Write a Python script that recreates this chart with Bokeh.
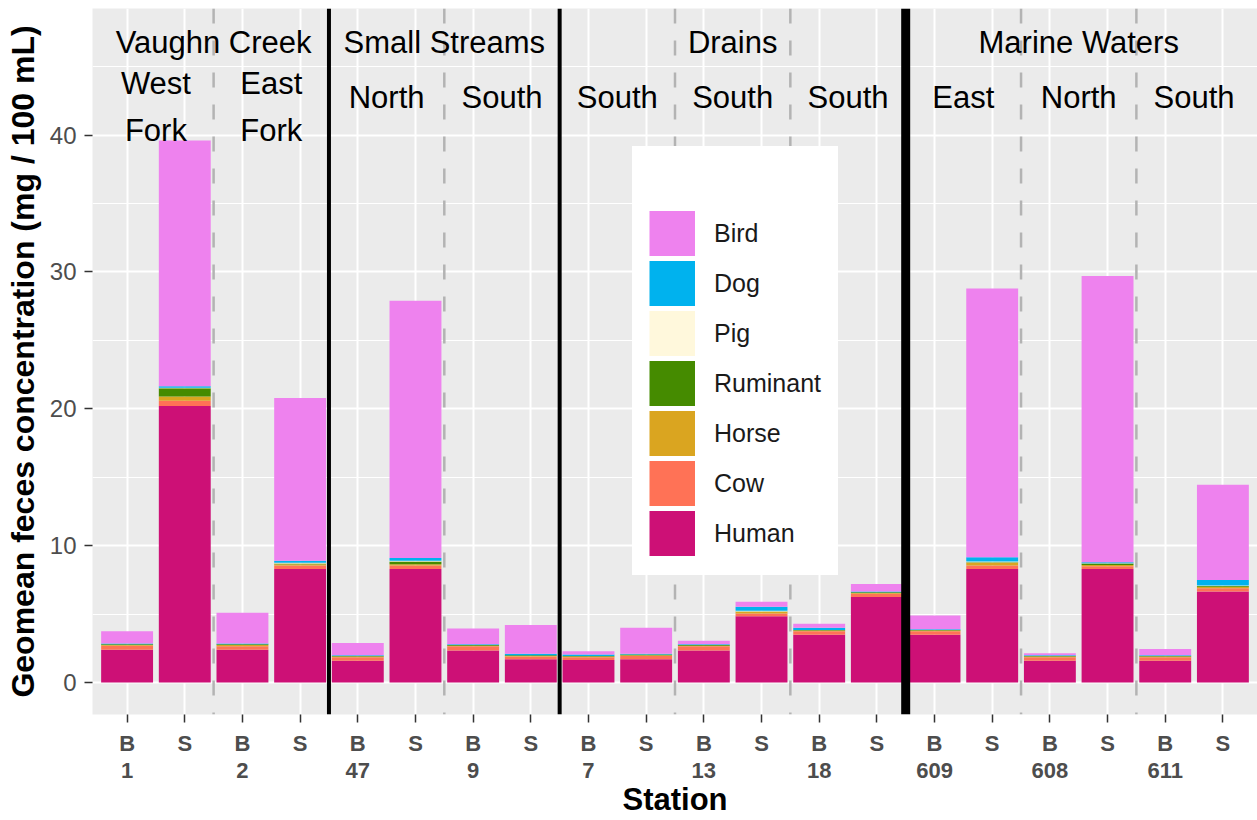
from bokeh.plotting import figure
from bokeh.models import Range1d, FixedTicker, Span, Legend, LegendItem, ColumnDataSource
from bokeh.core.properties import value
from bokeh.embed import file_html
from bokeh.resources import INLINE

# ---------------- data ----------------
stations = ["1", "1", "2", "2", "47", "47", "9", "9", "7", "7",
            "13", "13", "18", "18", "609", "609", "608", "608", "611", "611"]
sample_types = ["B", "S"] * 10
groups = (["Vaughn Creek"] * 4 + ["Small Streams"] * 4 +
          ["Drains"] * 6 + ["Marine Waters"] * 6)
sites = (["West\nFork"] * 2 + ["East\nFork"] * 2 + ["North"] * 2 + ["South"] * 2 +
         ["South"] * 6 + ["East"] * 2 + ["North"] * 2 + ["South"] * 2)

sources_order = ["Human", "Cow", "Horse", "Ruminant", "Pig", "Dog", "Bird"]
human    = [2.4, 20.2, 2.4, 8.3, 1.6, 8.3, 2.35, 1.7, 1.65, 1.7, 2.35, 4.85, 3.5, 6.25, 3.5, 8.3, 1.6, 8.3, 1.6, 6.65]
cow      = [0.3, 0.4, 0.25, 0.25, 0.25, 0.25, 0.3, 0.2, 0.2, 0.25, 0.3, 0.2, 0.25, 0.25, 0.25, 0.25, 0.25, 0.2, 0.25, 0.25]
horse    = [0.05, 0.3, 0.1, 0.1, 0.05, 0.1, 0.05, 0.05, 0.05, 0.05, 0.05, 0.1, 0.05, 0.05, 0.05, 0.2, 0.05, 0.1, 0.05, 0.1]
ruminant = [0.05, 0.6, 0.05, 0.05, 0.05, 0.2, 0.05, 0.05, 0.05, 0.05, 0.05, 0.05, 0.05, 0.05, 0.05, 0.05, 0.05, 0.1, 0.05, 0.05]
pig      = [0, 0.05, 0, 0.05, 0, 0.05, 0, 0, 0, 0, 0, 0.05, 0, 0, 0, 0.05, 0, 0.02, 0, 0.05]
dog      = [0.05, 0.1, 0.05, 0.15, 0.05, 0.2, 0.05, 0.1, 0.1, 0.05, 0.05, 0.3, 0.15, 0.05, 0.05, 0.3, 0.05, 0.08, 0.05, 0.4]
bird     = [0.9, 17.95, 2.25, 11.9, 0.9, 18.8, 1.15, 2.1, 0.25, 1.9, 0.25, 0.35, 0.3, 0.55, 1.0, 19.65, 0.15, 20.9, 0.45, 6.95]

y_ticks = [0, 10, 20, 30, 40]
y_minor = [5, 15, 25, 35, 45]

colors = {"Human": "#CD1076", "Cow": "#FF7256", "Horse": "#DAA520",
          "Ruminant": "#458B00", "Pig": "#FFF8DC", "Dog": "#00B2EE", "Bird": "#EE82EE"}

# ---------------- layout constants ----------------
FONT = "Liberation Sans"
ROW1_Y = 46.77
ROW2_Y = 42.77
ROW2_MULTI_Y = 42.05

n = len(stations)
xs = list(range(1, n + 1))
src = ColumnDataSource(dict(x=xs, Human=human, Cow=cow, Horse=horse, Ruminant=ruminant,
                            Pig=pig, Dog=dog, Bird=bird))

p = figure(width=1257, height=820, x_range=Range1d(0.4, n + 0.6), y_range=Range1d(-2.33, 49.25),
           output_backend="svg", toolbar_location=None,
           min_border_left=92, min_border_right=0, min_border_top=8, min_border_bottom=104)
p.background_fill_color = "#EBEBEB"
p.border_fill_color = "white"
p.outline_line_color = None

# grid
p.xgrid.grid_line_color = "white"
p.xgrid.grid_line_width = 2
p.ygrid.grid_line_color = "white"
p.ygrid.grid_line_width = 2.2
p.ygrid.minor_grid_line_color = "white"
p.ygrid.minor_grid_line_width = 1.1

# axes
x_labels = {}
prev = None
for i, (st, t) in enumerate(zip(stations, sample_types)):
    x_labels[i + 1] = f"{t}\n{st}" if st != prev else t
    prev = st
p.xaxis.ticker = FixedTicker(ticks=xs, minor_ticks=[])
p.xaxis.major_label_overrides = x_labels
p.yaxis.ticker = FixedTicker(ticks=y_ticks, minor_ticks=y_minor)
for ax in (p.xaxis[0], p.yaxis[0]):
    ax.axis_line_color = None
    ax.major_tick_line_color = "#333333"
    ax.major_tick_line_width = 1.5
    ax.major_tick_out = 8
    ax.major_tick_in = 0
    ax.minor_tick_line_color = None
    ax.major_label_text_font = FONT
    ax.major_label_text_color = "#4D4D4D"
    ax.axis_label_text_font = FONT
    ax.axis_label_text_font_style = "bold"
    ax.axis_label_text_color = "black"
p.xaxis.major_label_text_font_size = "22px"
p.xaxis.major_label_text_font_style = "bold"
p.xaxis.major_label_text_line_height = 1.1
p.xaxis.major_label_standoff = 8
p.xaxis.axis_label = "Station"
p.xaxis.axis_label_text_font_size = "31px"
p.xaxis.axis_label_standoff = -4
p.yaxis.major_label_text_font_size = "24px"
p.yaxis.major_label_standoff = 8
p.yaxis.axis_label = "Geomean feces concentration (mg / 100 mL)"
p.yaxis.axis_label_text_font_size = "32px"
p.yaxis.axis_label_standoff = 6

# separators
for i in range(1, n):
    loc = i + 0.5
    if groups[i] != groups[i - 1]:
        continue
    if stations[i] != stations[i - 1]:
        p.add_layout(Span(location=loc, dimension="height", line_color="#B3B3B3",
                          line_width=2.5, line_dash="15 17", level="underlay"))

# bars
renderers = p.vbar_stack(sources_order, x="x", width=0.9, source=src,
                         color=[colors[s] for s in sources_order], line_color=None)

group_bounds = [i for i in range(1, n) if groups[i] != groups[i - 1]]
for k, i in enumerate(group_bounds):
    w = 9 if k == len(group_bounds) - 1 else 4
    p.add_layout(Span(location=i + 0.5, dimension="height", line_color="black", line_width=w))

# header labels
g_names, g_x = [], []
for g in dict.fromkeys(groups):
    idx = [i + 1 for i, gg in enumerate(groups) if gg == g]
    g_names.append(g)
    g_x.append((idx[0] + idx[-1]) / 2)
p.text(x=g_x, y=[ROW1_Y] * len(g_x), text=g_names, text_font=value(FONT), text_font_size="31px",
       text_align="center", text_baseline="middle", text_color="black")

s_single_x, s_single_t, s_multi_x, s_multi_t = [], [], [], []
for i in range(0, n, 2):
    cx = (xs[i] + xs[i + 1]) / 2
    if "\n" in sites[i]:
        s_multi_x.append(cx)
        s_multi_t.append(sites[i])
    else:
        s_single_x.append(cx)
        s_single_t.append(sites[i])
p.text(x=s_single_x, y=[ROW2_Y] * len(s_single_x), text=s_single_t, text_font=value(FONT),
       text_font_size="31px", text_align="center", text_baseline="middle", text_color="black")
p.text(x=s_multi_x, y=[ROW2_MULTI_Y] * len(s_multi_x), text=s_multi_t, text_font=value(FONT),
       text_font_size="31px", text_align="center", text_baseline="middle", text_color="black",
       text_line_height=1.33)

# legend keys: line renderers with no visible data, drawn as solid blocks in the legend
nan = float("nan")
key_renderers = {}
for s in sources_order:
    key_renderers[s] = p.line(x=[nan], y=[nan], line_color=colors[s], line_width=45, line_cap="butt")

items = [LegendItem(label=s, renderers=[key_renderers[s]]) for s in sources_order][::-1]
legend = Legend(items=items, location=(540, 139), title=" ", title_text_font_size="24px",
                title_standoff=17, padding=0, spacing=0, glyph_width=46, glyph_height=50,
                label_standoff=19, label_width=107, label_text_font_size="25px", label_text_font=FONT,
                label_text_color="#1A1A1A", border_line_color="white", border_line_width=17,
                background_fill_color="white", background_fill_alpha=1, margin=0)
p.add_layout(legend)

open("out.html", "w").write(file_html(p, INLINE))
